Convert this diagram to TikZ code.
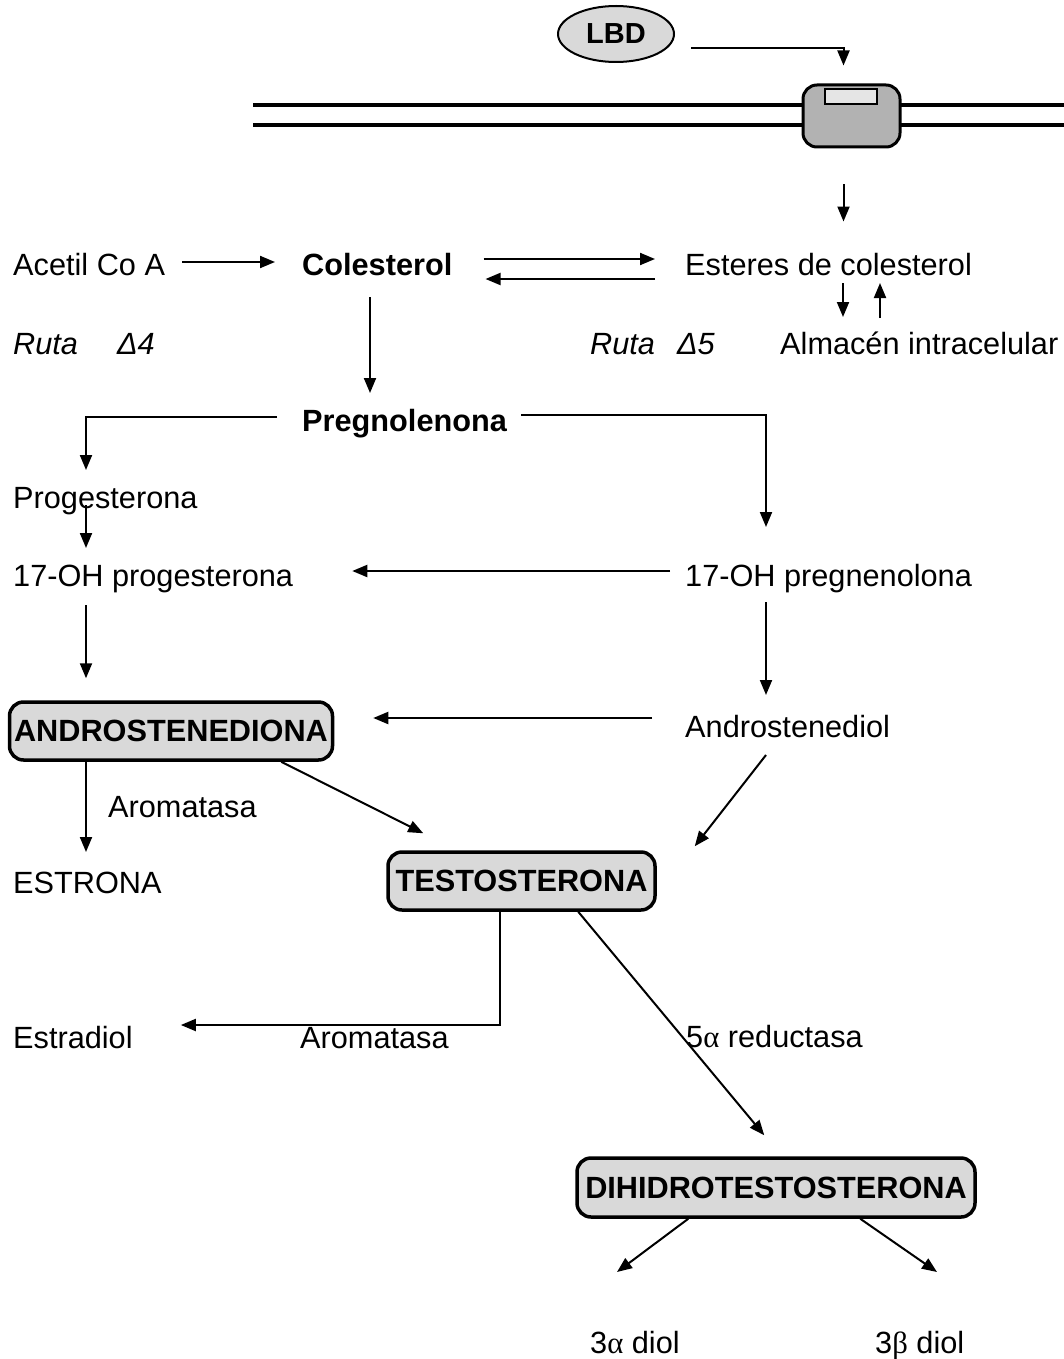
\documentclass[tikz,border=0pt]{standalone}
\usepackage{fontspec}
\setmainfont{Liberation Sans}
\newfontfamily\grk{Liberation Serif}
\newcommand\bigfs{\fontsize{30.7}{36}\selectfont}
\usetikzlibrary{arrows.meta,calc,shapes.geometric}
\tikzset{
  txt/.style={anchor=base west, inner sep=0pt},
  bld/.style={txt, font=\bigfs\bfseries},
  hbox/.style={draw, line width=3.5pt, rounded corners=14pt, fill=gray!30, font=\bigfs\bfseries, inner sep=1pt, align=center},
  arr/.style={-{Triangle[length=15pt,width=12pt]}, line width=2pt},
  memb/.style={line width=3.2pt},
}
\begin{document}
\begin{tikzpicture}[x=1pt, y=-1pt, font=\bigfs]
      \useasboundingbox (0,0) rectangle (1064,1359);
      % membrane and receptor
      \draw[memb] (253,105) -- (1064,105);
      \draw[memb] (253,125) -- (1064,125);
      \node[ellipse, draw, line width=2pt, fill=gray!30, minimum width=116pt, minimum height=56pt, font=\fontsize{29}{34}\selectfont\bfseries] (lbd) at (616,34) {LBD};
      \node[draw, line width=3pt, rounded corners=14pt, fill=gray!60, minimum width=97pt, minimum height=62pt] (rec) at (851.5,116) {};
      \node[draw, line width=2pt, fill=gray!20, minimum width=52pt, minimum height=15pt, inner sep=0pt] (recin) at (851,96.5) {};
      % texts
      \node[txt] (acetil) at (13,275) {Acetil Co A};
      \node[bld] (colest) at (302,275) {Colesterol};
      \node[txt] (ester) at (685,275) {Esteres de colesterol};
      \node[txt] (ruta4) at (13,354) {\textit{Ruta}\hspace{39pt}\textit{Δ4}};
      \node[txt] (ruta5) at (590,354) {\textit{Ruta}\hspace{22pt}\textit{Δ5}};
      \node[txt] (almacen) at (780,354) {Almacén intracelular};
      \node[bld] (preg) at (302,431) {Pregnolenona};
      \node[txt] (proges) at (13,508) {Progesterona};
      \node[txt] (ohprog) at (13,586) {17-OH progesterona};
      \node[txt] (ohpreg) at (685,586) {17-OH pregnenolona};
      \node[hbox, minimum width=323pt, minimum height=58pt] (andro) at (171,731) {ANDROSTENEDIONA};
      \node[txt] (androdiol) at (685,737) {Androstenediol};
      \node[txt] (arom1) at (108,817) {Aromatasa};
      \node[txt] (estrona) at (13,893) {ESTRONA};
      \node[hbox, minimum width=267pt, minimum height=58pt] (testo) at (521.5,881) {TESTOSTERONA};
      \node[txt] (estradiol) at (13,1048) {Estradiol};
      \node[txt] (arom2) at (300,1048) {Aromatasa};
      \node[txt] (reduct) at (686,1047) {5{\grk α} reductasa};
      \node[hbox, minimum width=398pt, minimum height=59pt] (dht) at (776,1187.5) {DIHIDROTESTOSTERONA};
      \node[txt] (diol3a) at (590,1353) {3{\grk α} diol};
      \node[txt] (diol3b) at (875,1353) {3{\grk β} diol};
      % connectors
      \draw[arr] ($(lbd.east)+(16,14)$) -| ($(rec.north)+(-8,-18)$);
      \draw[arr] ($(rec.south)+(-8,36)$) -- ($(rec.south)+(-8,73)$);
      \draw[arr] ($(acetil.base east)+(17,-13)$) -- ($(colest.base west)+(-27,-13)$);
      \draw[arr] ($(colest.base east)+(31,-16)$) -- ($(ester.base west)+(-30,-16)$);
      \draw[arr] ($(ester.base west)+(-30,4)$) -- ($(colest.base east)+(33,4)$);
      \draw[arr] ($(ester.base west)+(158,8)$) -- ($(almacen.base west)+(63,-37)$);
      \draw[arr] ($(almacen.base west)+(100,-36)$) -- ($(ester.base west)+(195,8)$);
      \draw[arr] ($(colest.base west)+(68,22)$) -- ($(preg.base west)+(68,-38)$);
      \draw[arr] ($(preg.base west)+(-25,-14)$) -| ($(proges.base west)+(73,-38)$);
      \draw[arr] ($(preg.base east)+(14,-16)$) -| ($(ohpreg.base west)+(81,-59)$);
      \draw[arr] ($(proges.base west)+(73,-3)$) -- ($(ohprog.base west)+(73,-38)$);
      \draw[arr] ($(ohpreg.base west)+(-15,-15)$) -- ($(ohprog.base east)+(59,-15)$);
      \draw[arr] ($(ohprog.base west)+(73,19)$) -- ($(andro.north west)+(78.25,-22)$);
      \draw[arr] ($(ohpreg.base west)+(81,16)$) -- ($(androdiol.base west)+(81,-42)$);
      \draw[arr] ($(androdiol.base west)+(-33,-19)$) -- ($(andro.east)+(39,-13)$);
      \draw[arr] ($(andro.south west)+(78.25,0)$) -- ($(estrona.base west)+(73,-41)$);
      \draw[arr] ($(andro.south east)+(-53,0)$) -- ($(testo.north west)+(37,-17)$);
      \draw[arr] ($(androdiol.base west)+(81,18)$) -- ($(testo.north east)+(38,-4)$);
      \draw[arr] ($(testo.south west)+(114,0)$) |- ($(estradiol.base east)+(48,-23)$);
      \draw[arr] ($(testo.south west)+(192,0)$) -- ($(dht.north west)+(189,-21)$);
      \draw[arr] ($(dht.south west)+(113,0)$) -- ($(diol3a.base west)+(27,-81)$);
      \draw[arr] ($(dht.south west)+(285,0)$) -- ($(diol3b.base west)+(62,-81)$);
    \end{tikzpicture}
\end{document}
